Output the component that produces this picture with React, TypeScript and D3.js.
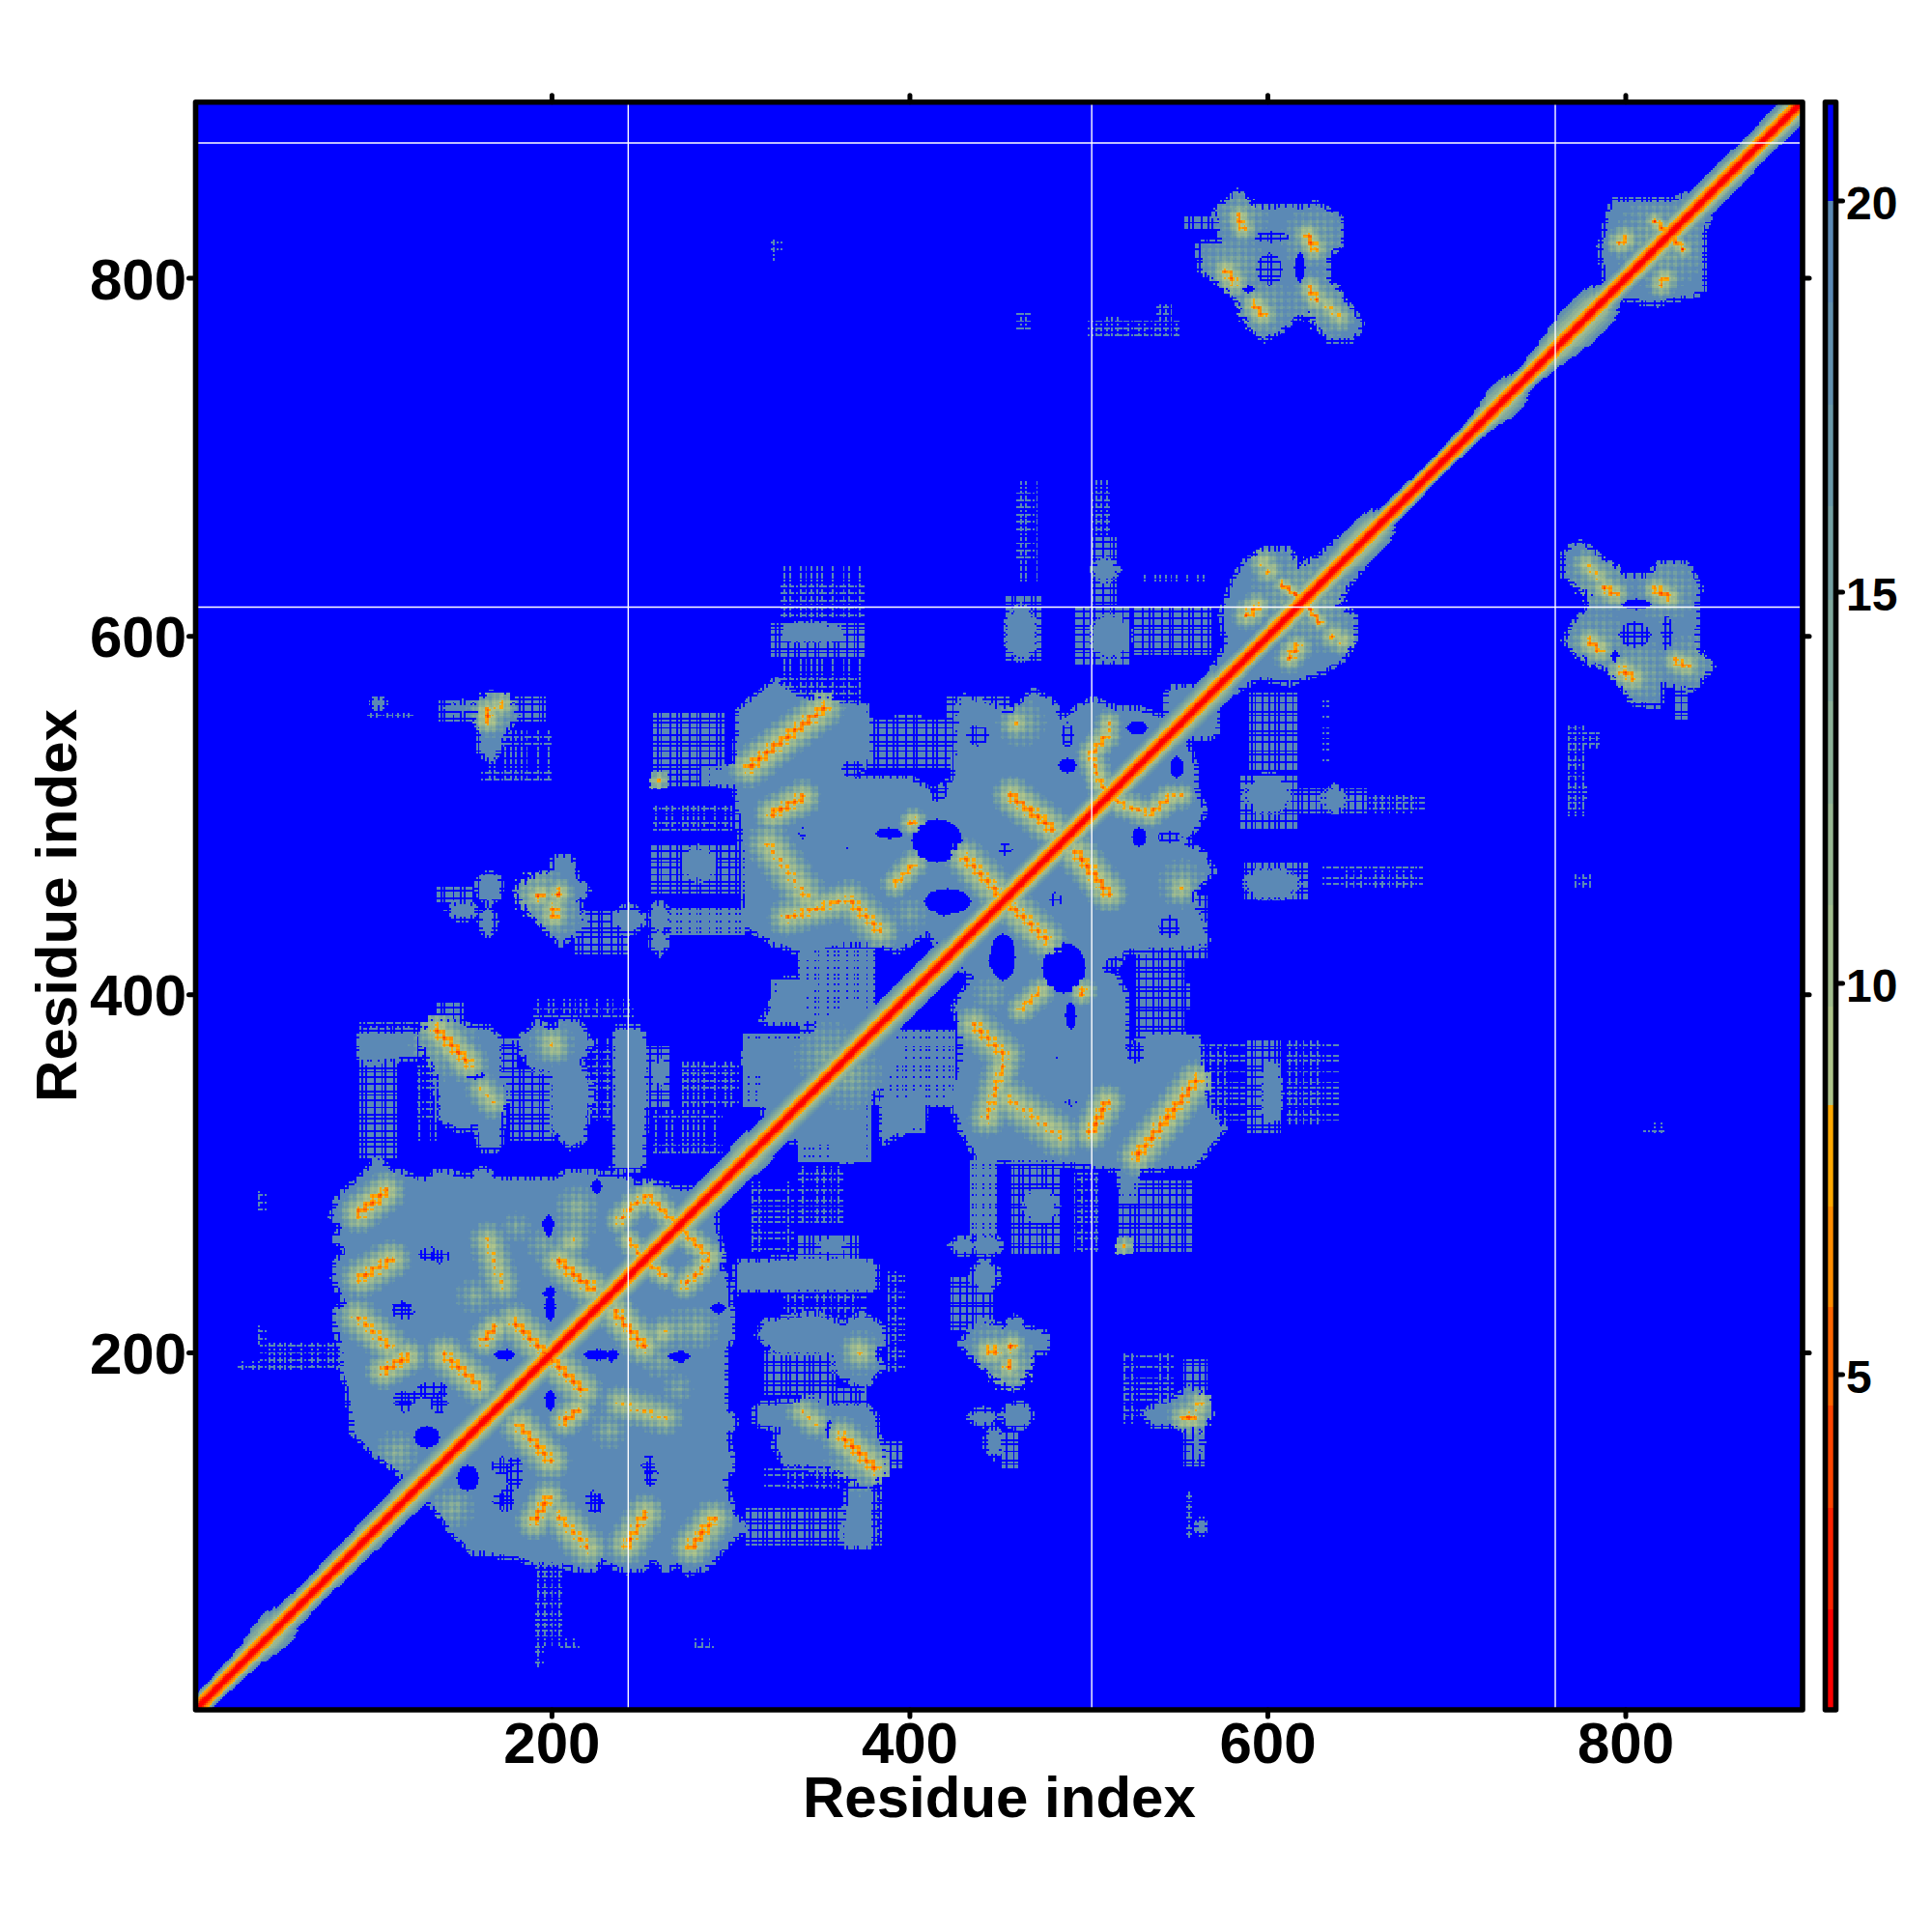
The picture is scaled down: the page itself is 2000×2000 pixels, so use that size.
import React, { useMemo } from "react";
import * as d3 from "d3";

const N = 898;
const axisTicks = [200, 400, 600, 800];
const legendTicks = [5, 10, 15, 20];
const axisTitle = "Residue index";
const chainBreaksX = [242.6, 501.6, 760.6];
const chainBreaksY = [616.4, 875.5];

// distance bins of the colour bar (upper edge of each bin) and their colours
const levelEdges = [2.0, 3.3, 4.6, 5.87, 7.15, 8.44, 9.7, 11, 12.3, 13.6, 14.9, 16.1, 17.4, 18.7, 20];
const levelColors = ["#ff0000", "#ff2200", "#ff4400", "#ff6600", "#ff8c00", "#ffa800",
  "#aec48a", "#a2bd8e", "#98b792", "#8cb097", "#80a89c", "#74a0a2", "#6a98a8", "#6290ae", "#5b89b5", "#0000ff"];

// solid contact regions, upper triangle only, in residue coordinates
const solidRegions: number[][][] = [
  [[118,116],[117,132],[102,143],[90,155],[88,170],[87,177],[86,182],[83,191],[84,200],[80,216],[80,224],[86,227],[82,234],[79,242],[80,251],[86,256],[80,263],[83,270],[78,276],[82,288],[93,297],[102,308],[111,301],[130,295],[135,301],[155,297],[161,303],[170,296],[203,297],[210,301],[241,297],[249,292],[252,295],[276,290],[290,296],[296,288],[120,114]],
  [[93,363],[93,378],[125,379],[125,366]],
  [[125,377],[134,385],[147,384],[158,380],[165,381],[170,375],[169,359],[174,346],[172,336],[170,315],[161,315],[158,328],[149,325],[138,330],[136,357],[131,367]],
  [[181,375],[192,384],[201,379],[206,386],[215,384],[221,373],[215,363],[221,348],[217,319],[210,315],[201,325],[201,357],[188,360]],
  [[235,381],[250,380],[252,340],[250,304],[235,304],[236,340]],
  [[161,564],[165,568],[176,564],[180,556],[174,548],[170,538],[166,531],[161,535],[160,550]],
  [[180,458],[194,467],[201,469],[202,477],[210,477],[214,465],[220,458],[214,452],[218,438],[205,429],[197,436],[188,446]],
  [[303,525],[305,559],[325,575],[334,568],[353,561],[378,554],[378,535],[370,521],[400,520],[413,513],[425,520],[428,559],[430,566],[451,559],[455,555],[468,569],[479,564],[484,553],[495,560],[502,564],[515,559],[530,558],[548,552],[548,545],[500,495],[440,430],[422,420],[410,436],[393,425],[380,430],[366,430],[342,423],[323,430],[307,439],[308,475],[304,511]],
  [[322,320],[318,345],[326,372],[345,378],[358,392],[372,395],[385,385],[345,330]],
  [[318,385],[330,408],[345,408],[340,385]],
  [[540,545],[548,562],[556,568],[570,560],[572,555],[570,545]],
  [[578,578],[570,582],[578,595],[575,612],[581,631],[589,643],[600,648],[612,648],[616,637],[627,643],[639,653],[650,659],[658,655],[660,650],[620,610]],
  [[772,772],[775,778],[782,790],[789,798],[787,818],[790,830],[793,842],[808,843],[824,842],[836,846],[848,852],[848,842],[800,795]],
  [[571,838],[584,848],[592,840],[600,838],[612,840],[621,838],[627,841],[641,834],[641,818],[633,814],[633,800],[652,775],[648,767],[633,767],[624,782],[616,779],[608,772],[597,766],[591,773],[583,789],[577,795],[564,804],[562,820],[575,820]],
];

// small solid patches: centre x, centre y, radius x, radius y
const solidPatches = [
  [150,447,7,3.5],[165,460,5.5,7.5],[164,441,3,7],[243,442,8,6],[260,443,5,7],[260,430,3.5,6],[282,473,8,8],
  [260,356,3.5,6],[462,602,7,14],[512,600,10,11],[509,637,6,5],[345,602,15,4],[365,552,10,8],[103,563,3,1.5],
  [150,560,8,2],[315,365,7,8],[298,522,10,4],
];

// cross-hatched zones: x0, y0, x1, y1, density (2 dense, 1 medium, 0 thin)
const hatchZones = [
  [93,309,113,363,1],[125,318,136,360,0],[177,319,201,358,1],[220,330,235,376,0],[250,338,266,371,1],[170,340,180,375,1],
  [93,378,125,384,0],[190,388,245,398,0],[136,387,150,395,1],[257,311,295,335,0],[273,338,304,363,0],
  [257,517,296,558,1],[284,518,307,527,2],[256,457,307,484,1],[213,423,242,446,1],[266,434,307,448,2],[257,492,300,505,0],
  [137,552,160,565,1],[180,553,196,566,1],[97,554,122,557,0],[136,452,156,460,1],[160,520,200,547,0],
  [361,527,430,554,1],[420,552,455,567,1],[392,545,406,556,1],[355,545,377,562,2],[338,407,380,425,2],
  [307,338,345,378,2],[323,385,380,408,2],[339,380,368,417,1],[327,562,372,590,0],
  [323,589,374,607,1],[330,598,361,607,2],[327,610,374,640,0],[453,587,473,623,1],[460,630,471,686,0],
  [493,585,523,617,1],[502,617,515,655,1],[502,655,511,688,0],[525,590,568,616,1],[530,630,565,634,0],
  [554,828,571,834,1],[323,810,328,822,0],[460,772,468,780,0],[510,772,520,779,0],[538,775,546,785,0],[500,768,550,776,0],
  [25,190,65,195,0],[36,205,40,216,0],[36,280,40,290,0],[37,192,100,205,0],
];

// blue openings inside the contact regions: x, y, rx, ry, kind (1 solid, 0 hatched)
const openings = [
  [130,153,7,6,1],[133,255,7,4,0],[116,225,6,4,0],[199,227,3,4,1],[198,233,3,2,1],[198,272,3.5,3,1],[173,199,5,2.5,1],
  [225,199,7,3,1],[234,199,3,3,1],[271,198,6,2.5,1],[199,175,3,4,1],[133,179,9,5,0],[119,175,7,4,0],[254,137,4,6,0],
  [223,117,5,6,0],[172,117,5,5,0],[172,137,6,5,0],[293,225,4,3,1],
  [415,486,14,12,1],[388,490,7,3,1],[421,452,13,7,1],[450,419,6,6,1],[488,528,5,4,1],[488,545,3,7,0],[453,481,4,3.5,0],
  [527,549,6,3.5,1],[340,490,2,3,0],[363,482,2,1.5,0],[416,515,5,8,0],[438,545,6,6,0],[368,526,6,5,0],[489,389,2,6,1],
  [589,794,3,2,1],[618,806,3,8,1],[602,823,10,3,0],[601,805,7,9,0],[157,355,5,2,1],
];

// contact streaks: x1, y1, x2, y2, core distance, halo width
const streaks = [
  [92,278,107,290,6.3,12],[93,242,110,252,6.8,12],[91,220,109,204,7.6,12],[106,190,119,198,6.3,11],[140,199,159,182,6.8,12],
  [162,207,168,214,6.2,10],[179,217,196,200,6.8,12],[164,263,172,238,9,11],[204,251,222,236,6.2,12],[210,261,212,263,10,10],
  [238,274,246,283,7,9],[246,283,254,288,7,9],[254,288,263,278,7.2,9],[263,278,269,272,7.6,9],[243,263,252,251,7.2,8],
  [136,380,153,362,6.3,12],[161,347,167,340,9,10],[200,373,201,371,8.5,11],
  [164,554,164,558,6,10],[170,561,172,562,7.5,9],[192,455,194,456,6.5,9],[203,456,204,457,6,9],[201,444,201,448,6,10],
  [259,519,260,520,9,7],
  [310,527,352,560,6.3,12],[323,501,340,510,6.3,11],[321,484,342,455,8.5,13],[331,443,361,452,7.5,11],[366,453,383,436,7.5,12],
  [401,496,402,497,6,8],[392,462,402,473,7.5,9],[457,511,479,493,6.3,12],[431,476,449,457,6.8,12],
  [501,534,510,545,7,9],[507,517,501,534,7.5,9],[510,545,511,552,8,8],[507,518,513,509,7.5,8],[459,551,460,552,9,10],
  [608,629,620,620,5.8,6],[588,612,594,617,6.5,9],[600,636,601,637,8,9],[592,613,594,615,7,8],[597,641,598,642,9,9],
  [816,832,825,824,5.8,6],[797,820,800,822,7,9],
  [584,834,586,828,6.5,9],[577,804,581,798,6.5,10],[593,785,597,780,6.5,10],[622,824,626,817,6,9],[624,794,627,788,6.5,9],[633,785,640,778,9,9],
];

// broad pale zones: x, y, radius, core distance
const glows = [
  [214,281,13,13],[113,144,13,14],[114,146,11,14],[213,271,12,14],[157,232,11,14],[620,620,32,13],[820,820,27,13],
  [580,805,20,14],[595,783,20,14],[625,822,18,14],[630,785,20,14],[585,835,16,14],[192,456,18,12],[201,447,16,13],[166,558,15,13],
  [140,372,20,13],[200,373,13,14],[462,552,14,13],[180,270,9,15],[260,196,11,15],[355,365,20,14],[445,400,10,15],
];

// half width of the band along the main diagonal, from the given residue on
const diagHalfWidth = [
  [1,8],[12,9],[22,10],[28,12],[32,14],[36,15],[42,13],[46,11],[55,10],[70,11],[90,12],[110,13],[130,13],[290,13],[300,15],[310,13],[420,12],[540,13],
  [570,11],[580,10],[600,12],[635,13],[640,15],[655,13],[659,10],[662,8],[680,7],[700,8],[712,9],[716,10],[719,12],[722,14],[730,13],[733,11],[736,9],[745,11],
  [752,13],[757,15],[762,17],[778,15],[782,12],[785,10],[800,12],[860,11],[875,12],[890,10],
];
const diagCore = [1, 1.6, 3, 4.8, 6.6, 8];

// repeating residue patterns that give the map its lattice look
const latticeShift = [-1.3, 0.8, 1.2, -0.7];
const rowPattern = [1, 1, 1, 0, 1, 1, 0, 1, 0, 1, 1, 1, 0];
const colPattern = [1, 1, 0, 1, 1, 1, 0, 1, 0, 1, 1];

const STEEL = 19.5;
const BLUE = 99;
const HALO_CUTOFF = 15.5;

function hatchOn(i: number, j: number, density: number) {
  const r = rowPattern[j % rowPattern.length], c = colPattern[i % colPattern.length];
  if (density === 2) return r || c;
  if (density === 1) return r && c;
  return r && c && (i % 3 === 0 || j % 4 === 0);
}

function buildGrid() {
  const V = new Float32Array(N * N).fill(BLUE);
  const at = (i: number, j: number) => i * N + j;
  const inRange = (i: number) => i >= 0 && i < N;
  const lower = (i: number, j: number, v: number) => {
    if (!inRange(i) || !inRange(j)) return;
    if (v < V[at(i, j)]) V[at(i, j)] = v;
    if (v < V[at(j, i)]) V[at(j, i)] = v;
  };
  // a pale halo fades out over the existing shape instead of making its own outline
  const lowerHalo = (i: number, j: number, v: number) => {
    if (!inRange(i) || !inRange(j)) return;
    if (v >= HALO_CUTOFF && V[at(i, j)] >= 20) return;
    lower(i, j, v);
  };
  for (const poly of solidRegions) {
    const xs = poly.map((p) => p[0]), ys = poly.map((p) => p[1]);
    for (let i = Math.floor(d3.min(xs)!); i <= d3.max(xs)!; i++)
      for (let j = Math.floor(d3.min(ys)!); j <= d3.max(ys)!; j++)
        if (d3.polygonContains(poly as [number, number][], [i, j])) lower(i, j, STEEL);
  }
  for (const [cx, cy, rx, ry] of solidPatches) {
    for (let i = Math.floor(cx - rx); i <= cx + rx; i++)
      for (let j = Math.floor(cy - ry); j <= cy + ry; j++)
        if (((i - cx) / rx) ** 2 + ((j - cy) / ry) ** 2 <= 1) lower(i, j, STEEL);
  }
  // frayed rim round the solid shapes
  const base = V.slice();
  for (let i = 5; i < N - 5; i++)
    for (let j = 5; j < i; j++) {
      if (base[at(i, j)] < 20) continue;
      const near = base[at(i - 3, j)] < 20 || base[at(i + 3, j)] < 20 || base[at(i, j - 3)] < 20 || base[at(i, j + 3)] < 20;
      if (near && hatchOn(i, j, 1)) lower(i, j, STEEL);
    }
  for (const [x0, y0, x1, y1, dens] of hatchZones) {
    for (let i = Math.min(x0, x1); i <= Math.max(x0, x1); i++)
      for (let j = Math.min(y0, y1); j <= Math.max(y0, y1); j++)
        if (hatchOn(i, j, dens)) lower(i, j, STEEL);
  }
  for (const [cx, cy, rx, ry, kind] of openings) {
    for (let i = Math.floor(cx - rx); i <= cx + rx; i++)
      for (let j = Math.floor(cy - ry); j <= cy + ry; j++)
        if (((i - cx) / rx) ** 2 + ((j - cy) / ry) ** 2 <= 1 && (kind === 1 || !hatchOn(i, j, 1))) {
          V[at(i, j)] = BLUE;
          V[at(j, i)] = BLUE;
        }
  }
  const lattice = (i: number, j: number) => latticeShift[i % 4] + latticeShift[j % 4];
  for (const [cx, cy, r, core] of glows) {
    for (let i = Math.floor(cx - r); i <= cx + r; i++)
      for (let j = Math.floor(cy - r); j <= cy + r; j++) {
        const d = Math.hypot(i - cx, j - cy);
        if (d > r) continue;
        const v = Math.min(STEEL, core + (STEEL - core) * (d / r) + lattice(i, j));
        lowerHalo(i, j, v);
      }
  }
  for (const [x1, y1, x2, y2, core, halo] of streaks) {
    const dx = x2 - x1, dy = y2 - y1, len2 = dx * dx + dy * dy;
    for (let i = Math.floor(Math.min(x1, x2) - halo); i <= Math.max(x1, x2) + halo; i++)
      for (let j = Math.floor(Math.min(y1, y2) - halo); j <= Math.max(y1, y2) + halo; j++) {
        const t = Math.max(0, Math.min(1, ((i - x1) * dx + (j - y1) * dy) / len2));
        const d = Math.hypot(i - x1 - t * dx, j - y1 - t * dy);
        if (d > halo) continue;
        const v = Math.min(STEEL, core + (STEEL - core) * (d / halo) + lattice(i, j));
        lowerHalo(i, j, v);
      }
  }
  // main diagonal band
  let seg = 0;
  for (let m = 1; m < N; m++) {
    while (seg + 1 < diagHalfWidth.length && diagHalfWidth[seg + 1][0] <= m) seg++;
    const w = diagHalfWidth[seg][1];
    for (let d = 0; d <= w; d++) {
      const k = diagCore.length;
      const v = d < k ? diagCore[d] : 9 + (STEEL - 9) * ((d - k + 1) / (w - k + 1));
      lower(m, m + d, v);
    }
  }
  return V;
}

const colorOf = d3.scaleThreshold<number, string>().domain(levelEdges).range(levelColors);

export default function App() {
  const x = d3.scaleLinear().domain([200, 800]).range([571.4, 1683]);
  const y = d3.scaleLinear().domain([200, 800]).range([1400.5, 288]);
  const legendY = d3.scaleLinear().domain([5, 20]).range([1423, 208]);
  const frame = { l: 202.5, r: 1866, t: 105.8, b: 1770 };
  const bar = { l: 1889.5, r: 1900.5, t: 105.8, b: 1770 };

  const paths = useMemo(() => {
    const V = buildGrid();
    const byColor = new Map<string, string[]>();
    const half = 0.5;
    for (let j = 1; j < N; j++) {
      const y0 = y(j + half), y1 = y(j - half);
      let i = 1;
      while (i < N) {
        const v = V[i * N + j];
        let e = i + 1;
        if (v >= 20) { i = e; continue; }
        const c = colorOf(v);
        while (e < N && V[e * N + j] < 20 && colorOf(V[e * N + j]) === c) e++;
        const x0 = x(i - half), x1 = x(e - half);
        if (!byColor.has(c)) byColor.set(c, []);
        byColor.get(c)!.push(`M${x0.toFixed(1)} ${y0.toFixed(1)}H${x1.toFixed(1)}V${y1.toFixed(1)}H${x0.toFixed(1)}Z`);
        i = e;
      }
    }
    return [...byColor.entries()].map(([c, parts]) => ({ c, d: parts.join("") }));
  }, []);

  const legendBins = levelColors.map((c, k) => {
    const top = k < levelEdges.length ? levelEdges[k] : 21.26;
    const bottom = k > 0 ? levelEdges[k - 1] : 0.73;
    return { c, y0: legendY(top), y1: legendY(bottom) };
  });
  const font = "'Liberation Sans', Arial, sans-serif";

  return (
    <svg width={2000} height={2000} viewBox="0 0 2000 2000"
      style={{ position: "absolute", left: 0, top: 0, background: "#fff" }} fontFamily={font} fontWeight="bold">
      <defs>
        <clipPath id="plot"><rect x={frame.l} y={frame.t} width={frame.r - frame.l} height={frame.b - frame.t} /></clipPath>
      </defs>
      <rect x={frame.l} y={frame.t} width={frame.r - frame.l} height={frame.b - frame.t} fill="#0000ff" />
      <g clipPath="url(#plot)" shapeRendering="crispEdges">
        {paths.map((p) => <path key={p.c} d={p.d} fill={p.c} />)}
      </g>
      <g clipPath="url(#plot)" stroke="#fff" strokeWidth={1.4}>
        {chainBreaksX.map((v) => <line key={v} x1={x(v)} x2={x(v)} y1={frame.t} y2={frame.b} />)}
        {chainBreaksY.map((v) => <line key={v} y1={y(v)} y2={y(v)} x1={frame.l} x2={frame.r - 3} />)}
      </g>
      <rect x={frame.l} y={frame.t} width={frame.r - frame.l} height={frame.b - frame.t} fill="none" stroke="#000" strokeWidth={5.6} strokeLinejoin="round" />
      <g stroke="#000" strokeWidth={5} strokeLinecap="round">
        {axisTicks.map((t) => (
          <g key={t}>
            <line x1={x(t)} x2={x(t)} y1={frame.b} y2={frame.b + 7} />
            <line x1={x(t)} x2={x(t)} y1={frame.t} y2={frame.t - 7} />
            <line y1={y(t)} y2={y(t)} x1={frame.l} x2={frame.l - 7} />
            <line y1={y(t)} y2={y(t)} x1={frame.r} x2={frame.r + 7} />
          </g>
        ))}
      </g>
      {axisTicks.map((t) => (
        <text key={t} x={x(t)} y={1825} fontSize={60} textAnchor="middle">{t}</text>
      ))}
      {axisTicks.map((t) => (
        <text key={t} x={193} y={y(t) + 21.5} fontSize={60} textAnchor="end">{t}</text>
      ))}
      <text x={1034.4} y={1881} fontSize={60} textAnchor="middle">{axisTitle}</text>
      <text transform="translate(79,937.5) rotate(-90)" fontSize={60} textAnchor="middle">{axisTitle}</text>
      <g shapeRendering="crispEdges">
        {legendBins.map((b) => <rect key={b.c} x={bar.l} width={bar.r - bar.l} y={b.y0} height={b.y1 - b.y0} fill={b.c} />)}
      </g>
      <rect x={bar.l} y={bar.t} width={bar.r - bar.l} height={bar.b - bar.t} fill="none" stroke="#000" strokeWidth={5.6} strokeLinejoin="round" />
      <g stroke="#000" strokeWidth={5} strokeLinecap="round">
        {legendTicks.map((t) => <line key={t} x1={bar.r} x2={bar.r + 7} y1={legendY(t)} y2={legendY(t)} />)}
      </g>
      {legendTicks.map((t) => (
        <text key={t} x={1911} y={legendY(t) + 19} fontSize={48}>{t}</text>
      ))}
    </svg>
  );
}
